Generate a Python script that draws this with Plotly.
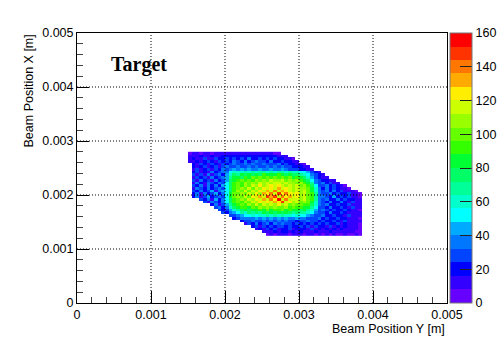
import plotly.graph_objects as go

# Counts per cell; rows run from the top of the picture downward, columns left to right
rows = [
 [6,9,8,7,10,9,7,8,11,9,8,10,12,9,11,10,9,12,10,8,11,9,10,7,6],
 [12,15,13,16,14,13,17,15,14,18,17,19,16,20,18,22,19,17,21,18,20,16,19,17,15,12,8],
 [13,20,12,14,24,11,15,26,16,18,28,19,30,20,27,21,32,22,20,31,21,28,19,27,20,22,15,11,7],
 [15,11,22,13,16,26,18,12,29,19,24,20,33,24,22,35,23,28,36,24,30,22,33,23,21,29,19,17,13,8],
 [0,17,10,24,18,12,27,19,13,31,21,25,34,27,25,38,26,33,27,25,37,26,31,24,34,23,28,20,18,15,12,7],
 [0,22,12,18,28,13,20,30,14,25,33,27,25,36,28,27,39,29,34,30,28,38,29,35,27,32,26,24,21,19,17,13,8],
 [0,13,24,11,19,31,14,26,16,33,30,37,40,34,43,35,46,37,36,47,38,35,44,37,34,42,33,31,27,25,21,18,14,9],
 [0,18,29,12,23,14,34,16,28,35, 36,48,56,62,58,66,60,68,62,66,70,62,66,60,70,64,58,64,56,60,54,48,40,30,20,11],
 [0,25,11,30,15,33,13,24,36,18, 40,62,72,68,80,74,84,76,82,78,88,80,86,82,90,84,78,84,74,78,70,62,50,36,25,17,10],
 [0,14,31,17,27,12,36,19,25,38, 44,68,80,86,78,92,84,96,88,98,90,98,92,102,94,100,90,96,86,90,82,74,62,46,28,22,15,9],
 [0,26,13,33,18,30,14,38,22,28, 46,72,84,92,98,88,102,94,106,98,110,102,112,104,110,114,102,108,98,104,92,84,72,54,32,26,22,18,13,8],
 [0,15,34,20,12,37,26,16,39,27, 48,74,88,96,90,104,96,110,102,114,106,118,110,116,112,108,116,104,110,100,106,92,82,66,38,28,36,20,25,14,9],
 [0,29,17,38,13,32,22,36,18,41, 48,76,90,100,94,108,100,114,106,120,110,116,124,114,122,116,110,118,106,112,102,108,92,76,48,30,25,38,21,28,17,12,7],
 [0,12,35,24,16,39,21,28,37,30, 50,78,92,98,106,96,112,102,116,108,122,112,124,118,130,112,124,116,108,114,104,110,96,84,58,34,23,37,20,29,18,14,11,6],
 [0,30,16,37,18,26,40,14,33,41, 52,78,94,104,96,112,100,118,108,126,114,132,118,136,116,134,122,114,110,118,106,112,98,86,62,32,28,39,22,32,19,27,15,13,8,6],
 [0,21,38,15,33,20,27,42,22,34, 52,80,96,100,108,98,116,106,124,110,132,122,140,118,144,124,136,120,116,122,108,114,100,88,64,36,29,24,38,21,31,18,16,26,14,10,5],
 [0,18,34,13,25,40,17,30,36,24, 53,80,98,106,98,114,102,120,112,134,118,146,128,150,116,142,126,134,114,120,110,116,102,88,66,38,36,25,22,40,20,31,17,28,15,13,7],
 [0,0,0,28,17,36,14,42,22,33, 50,78,94,102,110,98,116,104,122,114,128,118,136,124,152,118,138,116,112,118,106,112,100,88,64,36,28,37,20,23,34,18,29,16,17,14,8],
 [0,0,0,0,30,15,38,25,19,37, 48,74,90,98,92,110,100,114,106,120,112,126,116,130,120,146,114,122,108,114,100,108,96,84,60,34,30,23,38,21,19,32,20,15,25,13,9],
 [0,0,0,0,0,0,21,34,15,31, 42,68,84,92,100,88,106,96,112,102,116,106,118,108,120,110,114,100,106,96,102,90,92,78,56,32,29,36,22,19,30,20,16,27,15,12,9],
 [0,0,0,0,0,0,0,24,35,20, 38,56,74,82,88,94,84,98,90,104,96,106,98,110,102,98,106,92,98,88,94,84,82,70,50,30,28,22,34,20,17,28,19,14,24,13,8],
 [0,0,0,0,0,0,0,0,28,18, 31,42,60,70,76,82,74,86,80,92,84,96,86,94,88,96,84,90,80,84,76,80,70,60,44,28,33,24,20,31,18,16,27,17,13,12,7],
 [0,0,0,0,0,0,0,0,0,26, 22,32,44,54,64,60,72,66,78,70,82,74,80,76,86,72,80,74,70,74,64,68,60,50,38,26,27,21,32,18,20,29,16,15,14,13,8],
 [0,0,0,0,0,0,0,0,0,0,0, 24,30,38,46,52,48,58,52,62,56,66,58,68,60,64,56,62,54,58,52,50,46,38,30,24,34,19,21,30,17,18,15,25,13,14,8],
 [0,0,0,0,0,0,0,0,0,0,0,0, 20,28,34,32,38,36,42,36,44,38,42,38,45,37,42,38,36,40,35,34,30,28,25,32,21,27,18,20,30,19,16,14,15,12,7],
 [0,0,0,0,0,0,0,0,0,0,0,0,0,0,20,29,24,35,27,31,36,26,38,30,35,28,34,25,31,22,30,26,33,24,26,18,28,19,21,29,18,15,24,13,14,11,8],
 [0,0,0,0,0,0,0,0,0,0,0,0,0,0,0,15,27,22,33,19,29,34,22,32,25,36,24,30,21,28,23,31,18,26,20,30,18,24,19,16,26,14,20,13,12,10,7],
 [0,0,0,0,0,0,0,0,0,0,0,0,0,0,0,0,0,17,26,14,28,22,31,18,26,30,20,29,23,16,27,20,25,15,24,17,22,13,25,14,20,13,18,11,12,9,6],
 [0,0,0,0,0,0,0,0,0,0,0,0,0,0,0,0,0,0,11,20,14,24,17,26,15,23,19,25,14,22,16,21,13,24,15,19,11,22,13,17,12,18,10,15,11,8,6],
 [0,0,0,0,0,0,0,0,0,0,0,0,0,0,0,0,0,0,0,0,10,15,11,18,12,16,20,11,17,10,19,12,15,9,18,11,14,10,16,9,13,11,15,9,11,7,6],
 [0,0,0,0,0,0,0,0,0,0,0,0,0,0,0,0,0,0,0,0,0,6,8,7,9,8,10,7,9,8,10,7,9,8,6,8,7,9,6,8,7,6,8,7,6,8,5],
]
first_y_center = 0.001525
first_x_center = 0.002775
cell = 0.00005

major_ticks = [0, 0.001, 0.002, 0.003, 0.004, 0.005]
major_labels = ["0", "0.001", "0.002", "0.003", "0.004", "0.005"]
bar_ticks = [0, 20, 40, 60, 80, 100, 120, 140, 160]
band_colors = ["#6600ff","#3300ff","#0000ff","#0044ff","#0077ff","#00aaff","#00ffff","#00ffcc",
               "#00ff99","#00ff66","#00ff33","#33ff00","#66ff00","#99ff00","#ccff00","#ffee00",
               "#ffaa00","#ff7700","#ff3300","#ff0000"]

ncols = max(len(r) for r in rows)
z = [[(v if v > 0 else None) for v in r] + [None] * (ncols - len(r)) for r in rows]
ys = [first_x_center - cell * j for j in range(len(rows))]
xs = [first_y_center + cell * i for i in range(ncols)]

n = len(band_colors)
scale = []
for k, c in enumerate(band_colors):
    scale += [[k / n, c], [(k + 1) / n, c]]

FONT = "Liberation Sans"
TICK_SIZE = 12.5
TITLE_SIZE = 12.5
fig = go.Figure(go.Heatmap(
    x=xs, y=ys, z=z, zmin=0, zmax=160, colorscale=scale, hoverongaps=False,
    colorbar=dict(
        x=1.008, xanchor="left", xpad=0, y=0, yanchor="bottom", ypad=0, len=1, lenmode="fraction",
        thickness=22, thicknessmode="pixels", tickvals=bar_ticks, ticks="inside", ticklen=12,
        tickcolor="#222222", tickwidth=1, outlinecolor="#777777", outlinewidth=1,
        tickfont=dict(family=FONT, size=TICK_SIZE, color="black"),
    ),
))

dot = dict(color="black", width=1, dash="1px,2px")
for t in major_ticks[1:-1]:
    fig.add_shape(type="line", xref="x", yref="paper", x0=t, x1=t, y0=0, y1=1, line=dot, layer="above")
    fig.add_shape(type="line", xref="paper", yref="y", x0=0, x1=1, y0=t, y1=t, line=dot, layer="above")

axis = dict(
    range=[0, 0.005], tickvals=major_ticks, ticktext=major_labels, ticks="inside", ticklen=12,
    tickcolor="black", tickwidth=1, showgrid=False, zeroline=False, showline=True, linecolor="black",
    linewidth=1, mirror=True, tickfont=dict(family=FONT, size=TICK_SIZE, color="black"),
    minor=dict(ticks="inside", ticklen=6, tickcolor="#444444", tickwidth=1, dtick=0.0002, tick0=0, showgrid=False),
    layer="above traces",
)
fig.update_layout(
    width=498, height=338, margin=dict(l=77, r=51, t=33, b=35, autoexpand=False), autosize=False,
    paper_bgcolor="white", plot_bgcolor="white", xaxis=axis, yaxis=axis,
    font=dict(family=FONT, size=12, color="black"),
    annotations=[
        dict(text="Beam Position Y [m]", xref="x", yref="paper", x=0.005, y=0, xanchor="right", yanchor="top",
             yshift=-17, showarrow=False, font=dict(family=FONT, size=TITLE_SIZE)),
        dict(text="Beam Position X [m]", xref="paper", yref="y", x=0, y=0.005, xanchor="right", yanchor="top",
             xshift=-40, textangle=-90, showarrow=False, font=dict(family=FONT, size=TITLE_SIZE)),
        dict(text="<b>Target</b>", xref="paper", yref="paper", x=0.0865, y=0.883, xanchor="left", yanchor="middle",
             showarrow=False, font=dict(family="Liberation Serif", size=20)),
    ],
)
fig.write_html("out.html", config=dict(displayModeBar=False),
               post_script="document.body.style.margin='0';document.body.style.overflow='hidden';")
